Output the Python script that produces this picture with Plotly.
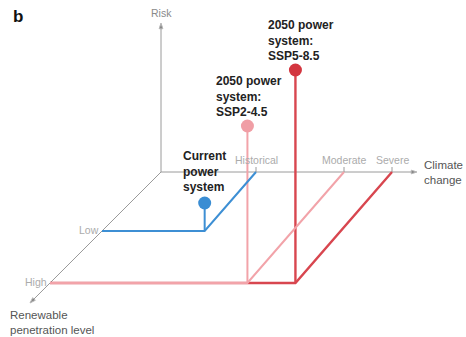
import plotly.graph_objects as go

# ---------------- data (schematic units) ----------------
climate_labels = ["Historical", "Moderate", "Severe"]
climate_values = [95, 183, 231]          # position along the climate-change axis
renew_labels = ["Low", "High"]
renew_values = [59, 111]                 # position along the renewable-penetration axis

scenario_names = ["2050 power<br>system:<br>SSP5-8.5",
                  "2050 power<br>system:<br>SSP2-4.5",
                  "Current<br>power<br>system"]
scenario_climate = [2, 1, 0]             # index into climate_labels
scenario_renew = [1, 1, 0]               # index into renew_labels
scenario_risk = [213, 157, 28]
scenario_line_colors = ["#d8464f", "#f2a3a9", "#3d8fd4"]
scenario_dot_colors = ["#d3353f", "#f09ea5", "#3a8dd3"]
scenario_widths = [2.4, 2.0, 2.0]
label_offsets = [(-28, 6), (-32, 6), (-23, 8)]

AXIS_LEN_CLIMATE = 256
AXIS_LEN_RENEW = 131
AXIS_LEN_RISK = 149

W, H = 466, 337
OX, OY = 161, H - 172        # origin of the pseudo-3D axes
SLANT_SCEN = 0.87             # oblique factor of scenario paths
SLANT_AXIS = 1.0              # oblique factor of renewable axis


def proj(c, r, z, slant=SLANT_SCEN):
    return OX + c - slant * r, OY - r + z


fig = go.Figure()
gray = "#9a9a9a"

# axes
axes = [
    [(0, 0, 0), (AXIS_LEN_CLIMATE, 0, 0)],
    [(0, 0, 0), (0, AXIS_LEN_RENEW, 0)],
    [(0, 0, 0), (0, 0, AXIS_LEN_RISK)],
]
for a in axes:
    pts = [proj(*p, slant=SLANT_AXIS) for p in a]
    fig.add_trace(go.Scatter(
        x=[p[0] for p in pts], y=[p[1] for p in pts], mode="lines+markers",
        line=dict(color=gray, width=1),
        marker=dict(symbol="arrow", size=[0, 6], angleref="previous", color="#555"),
        hoverinfo="skip"))

# climate ticks
tx, ty = [], []
for c in climate_values:
    x0, y0 = proj(c, 0, 0)
    tx += [x0, x0, None]
    ty += [y0, y0 + 5, None]
fig.add_trace(go.Scatter(x=tx, y=ty, mode="lines", line=dict(color=gray, width=1),
                         hoverinfo="skip"))

# scenarios
for i in range(len(scenario_names)):
    c = climate_values[scenario_climate[i]]
    r = renew_values[scenario_renew[i]]
    z = scenario_risk[i]
    ax_pt = proj(0, r, 0, slant=SLANT_AXIS)
    corner = proj(c, r, 0)
    tick = proj(c, 0, 0)
    top = proj(c, r, z)
    col = scenario_line_colors[i]
    fig.add_trace(go.Scatter(
        x=[ax_pt[0], corner[0], tick[0]], y=[ax_pt[1], corner[1], tick[1]],
        mode="lines", line=dict(color=col, width=scenario_widths[i]), hoverinfo="skip"))
    fig.add_trace(go.Scatter(
        x=[corner[0], top[0]], y=[corner[1], top[1]], mode="lines",
        line=dict(color=col, width=scenario_widths[i]), hoverinfo="skip"))
    fig.add_trace(go.Scatter(
        x=[top[0]], y=[top[1]], mode="markers",
        marker=dict(size=13, color=scenario_dot_colors[i], opacity=1,
                    line=dict(width=0)), hoverinfo="skip"))
    dx, dy = label_offsets[i]
    fig.add_annotation(x=top[0], y=top[1], text=scenario_names[i], showarrow=False,
                       xanchor="left", yanchor="bottom", align="left",
                       xshift=dx, yshift=dy, borderpad=0,
                       font=dict(family="Liberation Sans", size=12, color="#222",
                                 weight="bold"))

# tick labels
for lab, c in zip(climate_labels, climate_values):
    x0, y0 = proj(c, 0, 0)
    fig.add_annotation(x=x0, y=y0, text=lab, showarrow=False, yanchor="bottom",
                       yshift=5, borderpad=0,
                       font=dict(family="Liberation Sans", size=10.5, color="#ababab"))
for lab, r in zip(renew_labels, renew_values):
    x0, y0 = proj(0, r, 0, slant=SLANT_AXIS)
    fig.add_annotation(x=x0, y=y0, text=lab, showarrow=False, xanchor="right",
                       xshift=-2, yshift=1, borderpad=0,
                       font=dict(family="Liberation Sans", size=10.5, color="#ababab"))

# axis titles
rx, ry = proj(0, 0, AXIS_LEN_RISK, slant=SLANT_AXIS)
fig.add_annotation(x=rx, y=ry, text="Risk", showarrow=False, yanchor="bottom",
                   yshift=3, borderpad=0,
                   font=dict(family="Liberation Sans", size=10.5, color="#8a8a8a"))
cx, cy = proj(AXIS_LEN_CLIMATE, 0, 0, slant=SLANT_AXIS)
fig.add_annotation(x=cx, y=cy, text="Climate<br>change", showarrow=False,
                   xanchor="left", yanchor="middle", align="left", xshift=6, borderpad=0,
                   font=dict(family="Liberation Sans", size=11.5, color="#555"))
nx, ny = proj(0, AXIS_LEN_RENEW, 0, slant=SLANT_AXIS)
fig.add_annotation(x=9, y=ny, xref="x", text="Renewable<br>penetration level",
                   showarrow=False, xanchor="left", yanchor="top", align="left",
                   yshift=-5, borderpad=0,
                   font=dict(family="Liberation Sans", size=11.5, color="#555"))

fig.add_annotation(x=0, y=1, xref="paper", yref="paper", text="<b>b</b>",
                   showarrow=False, xanchor="left", yanchor="top", xshift=11, yshift=-5,
                   font=dict(family="Liberation Sans", size=17, color="#111"))

fig.update_layout(
    width=W, height=H, margin=dict(l=0, r=0, t=0, b=0),
    paper_bgcolor="white", plot_bgcolor="white", showlegend=False,
    xaxis=dict(range=[0, W], visible=False, fixedrange=True),
    yaxis=dict(range=[0, H], visible=False, fixedrange=True),
)
fig.write_html("out.html")
